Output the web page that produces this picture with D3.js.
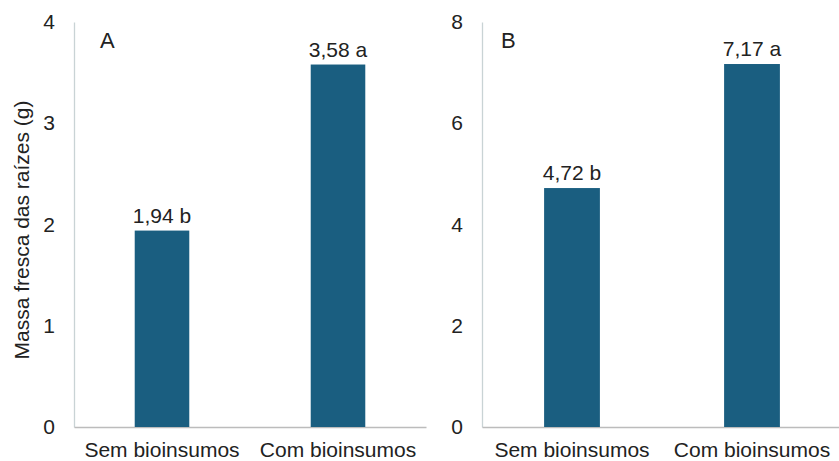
<!DOCTYPE html>
<html>
<head>
<meta charset="utf-8">
<script src="https://cdn.jsdelivr.net/npm/d3@7"></script>
<style>
  html, body { margin: 0; padding: 0; background: #fff; }
  svg { display: block; font-family: "Liberation Sans", Arial, sans-serif; }
</style>
</head>
<body>
<svg id="chart" width="839" height="461"></svg>
<script>
// Data
const categories = ["Sem bioinsumos", "Com bioinsumos"];
const valuesA = [1.94, 3.58];
const lettersA = ["b", "a"];
const valuesB = [4.72, 7.17];
const lettersB = ["b", "a"];
const ticksA = [0, 1, 2, 3, 4];
const ticksB = [0, 2, 4, 6, 8];
const yTitle = "Massa fresca das raízes (g)";

const svg = d3.select("#chart");
const barColor = "#1a5e80";
const axisColor = "#c9d3d5";
const textColor = "#222";
const fmt = v => v.toFixed(2).replace(".", ",");

function panel(opts) {
  const { x0, x1, y0, y1, max, ticks, values, letters, tag } = opts;
  const g = svg.append("g");
  const x = d3.scaleBand().domain(categories).range([x0, x1]).paddingInner(0.69).paddingOuter(0.345);
  const y = d3.scaleLinear().domain([0, max]).range([y0, y1]);

  // y axis
  const yAxis = d3.axisLeft(y).tickValues(ticks).tickSize(0).tickPadding(19).tickFormat(d => d);
  const ya = g.append("g").attr("transform", `translate(${x0},0)`).call(yAxis);
  ya.select(".domain").attr("stroke", axisColor).attr("stroke-width", 1.3);
  ya.selectAll("text").attr("font-size", 21).attr("fill", textColor).attr("font-family", "Liberation Sans, Arial, sans-serif");

  // x axis
  const xAxis = d3.axisBottom(x).tickSize(0).tickPadding(15);
  const xa = g.append("g").attr("transform", `translate(0,${y0})`).call(xAxis);
  xa.select(".domain").attr("stroke", "#bcbcbc").attr("stroke-width", 1.3);
  xa.selectAll("text").attr("font-size", 21).attr("fill", textColor).attr("font-family", "Liberation Sans, Arial, sans-serif");

  // bars
  g.selectAll("rect.bar").data(values).join("rect")
    .attr("class", "bar")
    .attr("x", (d, i) => x(categories[i]))
    .attr("width", x.bandwidth())
    .attr("y", d => y(d))
    .attr("height", d => y(0) - y(d))
    .attr("fill", barColor);

  // value labels
  g.selectAll("text.val").data(values).join("text")
    .attr("class", "val")
    .attr("x", (d, i) => x(categories[i]) + x.bandwidth() / 2)
    .attr("y", d => y(d) - 8)
    .attr("text-anchor", "middle")
    .attr("font-size", 21)
    .attr("fill", textColor)
    .text((d, i) => fmt(d) + " " + letters[i]);

  // panel tag
  g.append("text")
    .attr("x", x0 + opts.tagDx)
    .attr("y", 48)
    .attr("font-size", 22)
    .attr("fill", textColor)
    .text(tag);
}

panel({ x0: 74, x1: 426, y0: 427, y1: 22, max: 4, ticks: ticksA, values: valuesA, letters: lettersA, tag: "A", tagDx: 26 });
panel({ x0: 482, x1: 842, y0: 427, y1: 22, max: 8, ticks: ticksB, values: valuesB, letters: lettersB, tag: "B", tagDx: 19 });

// y axis title
svg.append("text")
  .attr("transform", "translate(29,230) rotate(-90)")
  .attr("text-anchor", "middle")
  .attr("font-size", 21)
  .attr("fill", textColor)
  .text(yTitle);
</script>
</body>
</html>
